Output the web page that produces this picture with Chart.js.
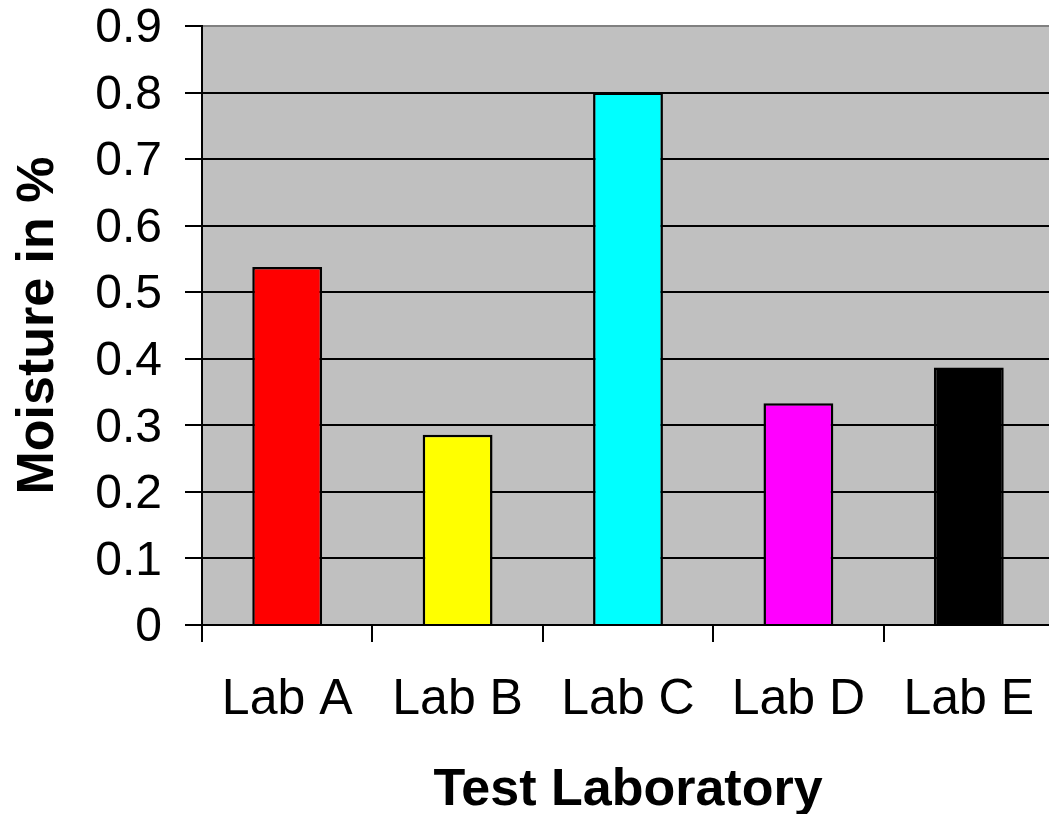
<!DOCTYPE html>
<html>
<head>
<meta charset="utf-8">
<script src="https://cdn.jsdelivr.net/npm/chart.js@4.4.0/dist/chart.umd.min.js"></script>
<style>
  html, body { margin: 0; padding: 0; background: #fff; overflow: hidden; }
  #wrap { width: 1060px; height: 814px; position: relative; }
</style>
</head>
<body>
<div id="wrap"><canvas id="chart"></canvas></div>
<script>
// data
const labs = ['Lab A', 'Lab B', 'Lab C', 'Lab D', 'Lab E'];
const moisture = [0.538, 0.286, 0.80, 0.333, 0.387];
const barColors = ['#ff0000', '#ffff00', '#00ffff', '#ff00ff', '#000000'];
const yTickLabels = ['0', '0.1', '0.2', '0.3', '0.4', '0.5', '0.6', '0.7', '0.8', '0.9'];

const FONT = '"Liberation Sans", Arial, sans-serif';

// grey plot area
const plotBg = {
    id: 'plotBg',
    beforeDraw(chart) {
        const a = chart.chartArea;
        const ctx = chart.ctx;
        ctx.save();
        ctx.fillStyle = '#c0c0c0';
        ctx.fillRect(a.left, a.top, a.right - a.left, a.bottom - a.top);
        ctx.restore();
    }
};

new Chart(document.getElementById('chart'), {
    type: 'bar',
    data: {
        labels: labs,
        datasets: [{
            data: moisture,
            backgroundColor: barColors,
            borderColor: '#000',
            borderWidth: 2.5,
            barPercentage: 0.41,
            categoryPercentage: 1
        }]
    },
    options: {
        responsive: true,
        maintainAspectRatio: false,
        animation: false,
        layout: { padding: { top: 26, right: 6, bottom: 0, left: 0 } },
        plugins: {
            legend: { display: false },
            tooltip: { enabled: false }
        },
        scales: {
            x: {
                grid: {
                    offset: true,
                    drawOnChartArea: false,
                    drawTicks: true,
                    tickLength: 17,
                    tickColor: '#000',
                    lineWidth: 2
                },
                border: { display: true, color: '#000', width: 2 },
                ticks: {
                    color: '#000',
                    padding: 28,
                    font: { family: FONT, size: 50 }
                },
                title: {
                    display: true,
                    text: 'Test Laboratory',
                    color: '#000',
                    padding: { top: 0, bottom: -3 },
                    font: { family: FONT, size: 52, weight: 'bold', lineHeight: 1 }
                },
                afterFit(scale) {
                    scale.height = 189;
                    scale.paddingLeft = 0;
                    scale.paddingRight = 0;
                }
            },
            y: {
                min: 0,
                max: 0.9,
                grid: {
                    color: ctx => (ctx.tick && ctx.tick.value >= 0.9 ? '#808080' : '#000'),
                    tickColor: '#000',
                    lineWidth: 2,
                    tickLength: 17
                },
                border: { display: true, color: '#000', width: 2 },
                ticks: {
                    stepSize: 0.1,
                    color: '#000',
                    padding: 23,
                    labelOffset: 3,
                    font: { family: FONT, size: 48, lineHeight: 1 },
                    callback: (v, i) => yTickLabels[i]
                },
                title: {
                    display: true,
                    text: 'Moisture in %',
                    color: '#000',
                    padding: { top: 13, bottom: 0 },
                    font: { family: FONT, size: 52, weight: 'bold', lineHeight: 1 }
                },
                afterFit(scale) {
                    scale.width = 202;
                    scale.paddingTop = 0;
                    scale.paddingBottom = 0;
                }
            }
        }
    },
    plugins: [plotBg]
});
</script>
</body>
</html>
